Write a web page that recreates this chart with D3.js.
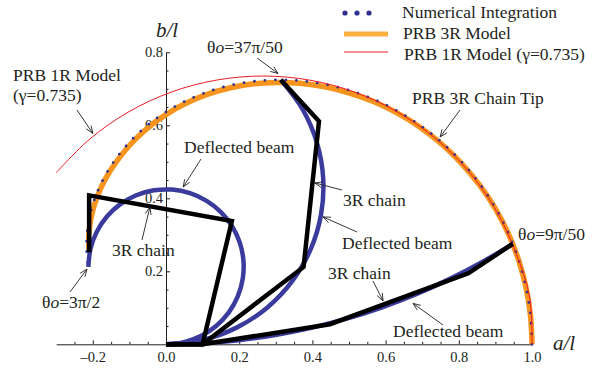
<!DOCTYPE html>
<html>
<head>
<meta charset="utf-8">
<script src="https://cdn.jsdelivr.net/npm/d3@7"></script>
<style>
  html, body { margin: 0; padding: 0; background: #fff; }
  svg { display: block; }
</style>
</head>
<body>
<svg id="chart" width="608" height="373"></svg>
<script>
// ---- data (a/l, b/l) ----
const xTicks = [-0.2, 0.0, 0.2, 0.4, 0.6, 0.8, 1.0];
const yTicks = [0.2, 0.4, 0.6, 0.8];
const xMinorTicks = [-0.25, -0.15, -0.1, -0.05, 0.05, 0.1, 0.15, 0.25, 0.3, 0.35, 0.45, 0.5, 0.55, 0.65, 0.7, 0.75, 0.85, 0.9, 0.95];
const yMinorTicks = [0.05, 0.1, 0.15, 0.25, 0.3, 0.35, 0.45, 0.5, 0.55, 0.65, 0.7, 0.75];

// beam tip locus from numerical integration
const numericalTip = [
  [1.0000, 0.0000], [0.9959, 0.0784], [0.9836, 0.1558], [0.9634, 0.2313], [0.9355, 0.3040],
  [0.9003, 0.3729], [0.8584, 0.4374], [0.8103, 0.4966], [0.7568, 0.5499], [0.6987, 0.5967],
  [0.6366, 0.6366], [0.5716, 0.6693], [0.5046, 0.6945], [0.4363, 0.7120], [0.3679, 0.7220],
  [0.3001, 0.7245], [0.2339, 0.7198], [0.1700, 0.7082], [0.1093, 0.6901], [0.0524, 0.6660],
  [0.0000, 0.6366], [-0.0474, 0.6026], [-0.0894, 0.5646], [-0.1257, 0.5234], [-0.1559, 0.4799],
  [-0.1801, 0.4347], [-0.1981, 0.3888], [-0.2101, 0.3428], [-0.2162, 0.2976], [-0.2168, 0.2539],
  [-0.2122, 0.2122]
];

// PRB 3R chain tip locus
const prb3RTip = [
  [1.0000, 0.0000], [0.9959, 0.0784], [0.9836, 0.1558], [0.9632, 0.2312], [0.9350, 0.3037],
  [0.8995, 0.3724], [0.8570, 0.4360], [0.8085, 0.4945], [0.7545, 0.5475], [0.6960, 0.5935],
  [0.6335, 0.6325], [0.5685, 0.6645], [0.5015, 0.6885], [0.4340, 0.7055], [0.3660, 0.7150],
  [0.2990, 0.7175], [0.2335, 0.7130], [0.1705, 0.7015], [0.1105, 0.6840], [0.0545, 0.6605],
  [0.0030, 0.6315], [-0.0440, 0.5980], [-0.0855, 0.5600], [-0.1215, 0.5190], [-0.1520, 0.4760],
  [-0.1765, 0.4315], [-0.1945, 0.3860], [-0.2060, 0.3405], [-0.2110, 0.2955], [-0.2100, 0.2520]
];

// PRB 1R model tip locus (gamma = 0.735)
const prb1RTip = [
  [1.0000, 0.0000], [0.9938, 0.1276], [0.9557, 0.2514], [0.9015, 0.3675], [0.8280, 0.4725],
  [0.7375, 0.5630], [0.6325, 0.6365], [0.5164, 0.6907], [0.3926, 0.7238], [0.2650, 0.7350],
  [0.1374, 0.7238], [0.0136, 0.6907], [-0.1025, 0.6365], [-0.2075, 0.5630], [-0.3000, 0.4701]
];

// deflected beam shapes
const beam9pi50 = [
  [0, 0], [0.0999, 0.0028], [0.1996, 0.0113], [0.2986, 0.0254], [0.3966, 0.0450], [0.4934, 0.0702],
  [0.5886, 0.1008], [0.6820, 0.1367], [0.7730, 0.1779], [0.8616, 0.2241], [0.9475, 0.2753]
];
const beam37pi50 = [
  [0, 0], [0.0991, 0.0116], [0.1929, 0.0457], [0.2763, 0.1004], [0.3448, 0.1730], [0.3948, 0.2593],
  [0.4235, 0.3549], [0.4295, 0.4545], [0.4123, 0.5527], [0.3730, 0.6445], [0.3136, 0.7246]
];
const beam3pi2 = [
  [0, 0], [0.0495, 0.0059], [0.0963, 0.0231], [0.1378, 0.0508], [0.1717, 0.0875], [0.1961, 0.1310],
  [0.2096, 0.1790], [0.2116, 0.2289], [0.2018, 0.2778], [0.1809, 0.3231], [0.1501, 0.3623],
  [0.1109, 0.3931], [0.0656, 0.4140], [0.0167, 0.4238], [-0.0332, 0.4218], [-0.0812, 0.4083],
  [-0.1247, 0.3839], [-0.1614, 0.3500], [-0.1891, 0.3086], [-0.2063, 0.2618], [-0.2122, 0.2122]
];

// PRB 3R chain joints
const chain9pi50 = [[0, 0], [0.1, 0], [0.448, 0.055], [0.826, 0.1945], [0.9475, 0.2753]];
const chain37pi50 = [[0, 0], [0.1, 0], [0.376, 0.212], [0.418, 0.611], [0.3136, 0.7246]];
const chain3pi2 = [[0, 0], [0.1, 0], [0.18, 0.338], [-0.21, 0.408], [-0.21, 0.252]];

const legendLabels = ["Numerical Integration", "PRB 3R Model", "PRB 1R Model (\u03b3=0.735)"];

// ---- layout ----
const FONT = '"Liberation Serif", "Times New Roman", Times, "DejaVu Serif", serif';
const svg = d3.select("#chart");
const x = d3.scaleLinear().domain([-0.3, 1.0]).range([56.2, 532]);
const y = d3.scaleLinear().domain([0, 0.8]).range([344.3, 52.3]);

const C = {
  dots: "#2e3192",
  orange: "#f7941e",
  orangeLegend: "#fbb040",
  red: "#ed1c24",
  beam: "#3b3b9e",
  chain: "#000000",
  axis: "#231f20",
  text: "#231f20"
};

const line = d3.line().x(d => x(d[0])).y(d => y(d[1])).curve(d3.curveCatmullRom.alpha(0.5));
const poly = d3.line().x(d => x(d[0])).y(d => y(d[1]));

// ---- axes ----
const gx = svg.append("g").attr("transform", `translate(0,${y(0)})`);
gx.call(d3.axisBottom(x).tickValues(xTicks).tickSize(-4).tickSizeOuter(0).tickPadding(7)
  .tickFormat(d => d3.format(".1f")(d).replace("\u2212", "\u2013")));
gx.append("g").call(d3.axisBottom(x).tickValues(xMinorTicks).tickSize(-2.5).tickSizeOuter(0).tickFormat(""))
  .select(".domain").remove();

const gy = svg.append("g").attr("transform", `translate(${x(0)},0)`);
gy.call(d3.axisLeft(y).tickValues(yTicks).tickSize(-4).tickSizeOuter(0).tickPadding(3)
  .tickFormat(d3.format(".1f")));
gy.append("g").call(d3.axisLeft(y).tickValues(yMinorTicks).tickSize(-2.5).tickSizeOuter(0).tickFormat(""))
  .select(".domain").remove();

svg.selectAll("g").attr("font-family", null);
svg.selectAll(".domain, .tick line").attr("stroke", C.axis).attr("stroke-width", 1);
svg.selectAll(".tick text").attr("font-size", "14.5px").attr("fill", C.text)
  .attr("font-family", FONT).style("font-family", FONT);

svg.append("text").attr("x", 167).attr("y", 37).attr("text-anchor", "middle")
  .attr("font-size", "21px").attr("font-style", "italic").attr("fill", C.text)
  .style("font-family", FONT).text("b/l");
svg.append("text").attr("x", 553).attr("y", 350)
  .attr("font-size", "21px").attr("font-style", "italic").attr("fill", C.text)
  .style("font-family", FONT).text("a/l");

// ---- tip loci ----
svg.append("path").datum(prb3RTip).attr("d", line)
  .attr("fill", "none").attr("stroke", C.orange).attr("stroke-width", 5.5);
svg.append("path").datum(numericalTip).attr("d", line)
  .attr("fill", "none").attr("stroke", C.dots).attr("stroke-width", 2.8)
  .attr("stroke-linecap", "round").attr("stroke-dasharray", "0 10.5");
svg.append("path").datum(prb1RTip).attr("d", line)
  .attr("fill", "none").attr("stroke", C.red).attr("stroke-width", 1);

// ---- deflected beams ----
[beam9pi50, beam37pi50, beam3pi2].forEach(b => {
  svg.append("path").datum(b).attr("d", line)
    .attr("fill", "none").attr("stroke", C.beam).attr("stroke-width", 4.5);
});

// ---- 3R chains ----
[chain9pi50, chain37pi50, chain3pi2].forEach(c => {
  svg.append("path").datum(c).attr("d", poly)
    .attr("fill", "none").attr("stroke", C.chain).attr("stroke-width", 4.5)
    .attr("stroke-linejoin", "miter");
});

// ---- annotations ----
function arrow(x1, y1, tip) {
  const x2 = x(tip[0]), y2 = y(tip[1]);
  const a = Math.atan2(y2 - y1, x2 - x1);
  const L = 8, w = 0.38;
  const g = svg.append("g").attr("stroke", C.text).attr("stroke-width", 0.9).attr("fill", "none");
  g.append("line").attr("x1", x1).attr("y1", y1).attr("x2", x2).attr("y2", y2);
  g.append("path").attr("d",
    `M${x2 - L * Math.cos(a - w)},${y2 - L * Math.sin(a - w)}L${x2},${y2}L${x2 - L * Math.cos(a + w)},${y2 - L * Math.sin(a + w)}`);
}
function label(tx, ty, str) {
  return svg.append("text").attr("x", tx).attr("y", ty).attr("font-size", "17.5px")
    .attr("fill", C.text).style("font-family", FONT).text(str);
}
function thetaLabel(tx, ty, rest) {
  const t = svg.append("text").attr("x", tx).attr("y", ty).attr("font-size", "17.5px")
    .attr("fill", C.text).style("font-family", FONT);
  t.append("tspan").text("\u03b8");
  t.append("tspan").attr("font-style", "italic").text("o");
  t.append("tspan").text(rest);
}

label(13, 81, "PRB 1R Model");
label(13, 101, "(\u03b3=0.735)");
arrow(77, 110, [-0.200, 0.578]);

thetaLabel(207, 53, "=37\u03c0/50");
arrow(257, 58, [0.306, 0.742]);

label(412, 104, "PRB 3R Chain Tip");
arrow(460, 110, [0.749, 0.568]);

label(184, 153, "Deflected beam");
arrow(201, 159, [0.047, 0.431]);

label(112, 256, "3R chain");
arrow(142, 240, [-0.044, 0.376]);

thetaLabel(42, 308, "=3\u03c0/2");
arrow(70, 292, [-0.216, 0.206]);

label(343, 206, "3R chain");
arrow(342, 190, [0.407, 0.442]);

label(342, 249, "Deflected beam");
arrow(357, 232, [0.429, 0.349]);

label(328, 279, "3R chain");
arrow(373, 281, [0.593, 0.119]);

label(393, 337, "Deflected beam");
arrow(443, 325, [0.675, 0.112]);

thetaLabel(518, 240, "=9\u03c0/50");

// ---- legend ----
const lg = svg.append("g");
[345, 357, 369].forEach(cx => lg.append("circle").attr("cx", cx).attr("cy", 13).attr("r", 2.6).attr("fill", C.dots));
lg.append("line").attr("x1", 344).attr("x2", 388).attr("y1", 34).attr("y2", 34)
  .attr("stroke", C.orangeLegend).attr("stroke-width", 5);
lg.append("line").attr("x1", 344).attr("x2", 388).attr("y1", 52).attr("y2", 52)
  .attr("stroke", C.red).attr("stroke-width", 1.2);
[[402, 18], [403, 39], [404, 60]].forEach((p, i) => {
  lg.append("text").attr("x", p[0]).attr("y", p[1]).attr("font-size", "17.5px")
    .attr("fill", C.text).style("font-family", FONT).text(legendLabels[i]);
});
</script>
</body>
</html>
